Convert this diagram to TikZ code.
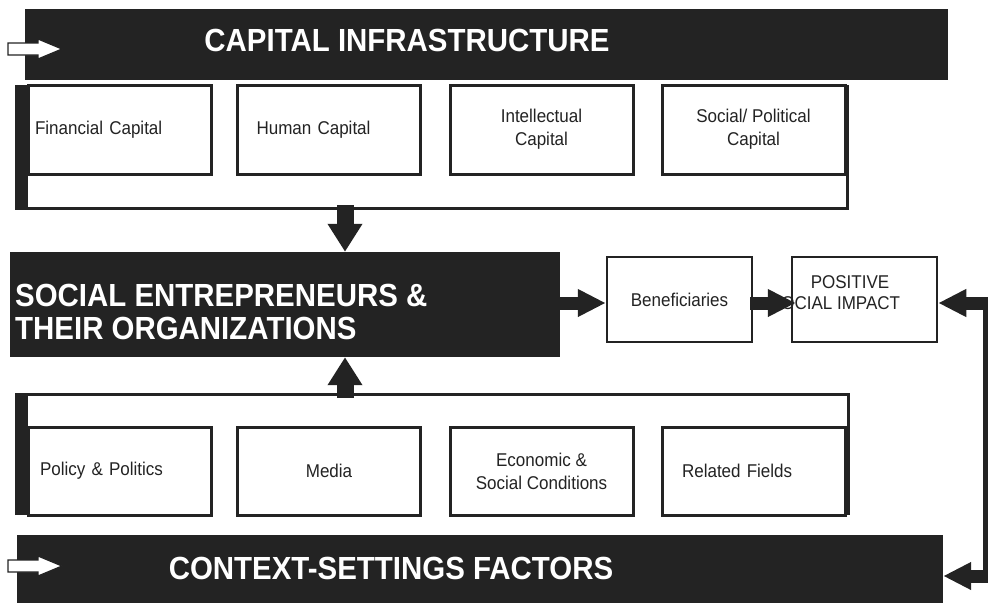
\documentclass[tikz,border=0pt]{standalone}
\usepackage{fontspec}
\newfontfamily\diagfont[FakeStretch=0.92]{Liberation Sans}
\usetikzlibrary{arrows.meta,calc}
\definecolor{barblack}{RGB}{35,35,35}
\tikzset{
  darkbar/.style={fill=barblack, draw=none, inner sep=0pt},
  bartext/.style={text=white, inner sep=0pt, align=left,
    font=\diagfont\bfseries\fontsize{32}{33}\selectfont},
  itembox/.style={draw=barblack, line width=3pt, fill=white, inner sep=0pt,
    minimum width=183pt, minimum height=89pt, align=center, text=barblack,
    font=\diagfont\fontsize{18.5}{23}\selectfont},
  flowbox/.style={itembox, line width=2.5pt, minimum width=145pt,
    minimum height=85pt},
  grouplines/.style={draw=barblack, line width=3pt},
  bigarrow/.style={barblack, line width=17pt, -{Triangle[width=33pt,length=28pt]}},
  blockarrow/.style={barblack, line width=13pt, -{Triangle[width=26pt,length=28pt]}},
  inarrow/.style={fill=white, draw=barblack, line width=1.2pt}
}
\begin{document}
\begin{tikzpicture}[x=1pt,y=-1pt]
  \useasboundingbox (0,0) rectangle (988,603);
  % capital infrastructure
  \node[darkbar, minimum width=923pt, minimum height=71pt] (capbar) at (486.5,44.5) {};
  \node[bartext] (captitle) at (407,40) {CAPITAL INFRASTRUCTURE};
  \coordinate (capin) at (8,49);
  \draw[inarrow] (capin) ++(0,-6) -- ++(30,0) -- ++(0,-4) -- ++(24,10)
    -- ++(-24,10) -- ++(0,-4) -- ++(-30,0) -- cycle;
  \node[minimum width=830pt, minimum height=123pt, inner sep=0pt] (capgroup) at (432,146.5) {};
  \draw[grouplines] (capgroup.north west) -- (capgroup.south west)
    -- (capgroup.south east) -- (capgroup.north east);
  \fill[barblack] (capgroup.north west) rectangle ($(capgroup.south west)+(11,0)$);
  \node[itembox, text width=169pt, align=left] (fin) at (119.5,130) {Financial Capital};
  \node[itembox, text width=145pt, align=left] (hum) at (329,130) {Human Capital};
  \node[itembox] (int) at (541.5,129.5) {Intellectual\\Capital};
  \node[itembox] (soc) at (753.5,129.5) {Social/ Political\\Capital};
  % social entrepreneurs
  \node[darkbar, minimum width=550pt, minimum height=105pt] (sebox) at (285,304.5) {};
  \node[bartext, anchor=west] (setitle) at (15,312) {SOCIAL ENTREPRENEURS \&\\THEIR ORGANIZATIONS};
  \coordinate (dropx) at (345,0);
  \draw[bigarrow] (capgroup.south -| dropx) ++(0,-3) -- (sebox.north -| dropx);
  % beneficiaries and impact
  \coordinate (flowy) at (0,303);
  \node[flowbox] (ben) at (679.5,299.5) {Beneficiaries};
  \node[flowbox] (pos) at (864.5,299.5) {};
  \node[inner sep=0pt, align=center, text=barblack,
    font=\diagfont\fontsize{18.5}{21}\selectfont] (postext) at (835,292.5)
    {\hspace*{30pt}POSITIVE\\SOCIAL IMPACT};
  \draw[blockarrow] (sebox.east |- flowy) -- (ben.west |- flowy);
  \draw[blockarrow] ([xshift=-3pt]ben.east |- flowy) -- ([xshift=5pt]pos.west |- flowy);
  % context-setting factors
  \node[minimum width=831pt, minimum height=120pt, inner sep=0pt] (ctxgroup) at (432.5,455) {};
  \draw[grouplines] (ctxgroup.south west) -- (ctxgroup.north west)
    -- (ctxgroup.north east) -- (ctxgroup.south east);
  \fill[barblack] (ctxgroup.north west) rectangle ($(ctxgroup.south west)+(11,0)$);
  \node[itembox, minimum height=88pt, text width=159pt, align=left] (pol) at (119.5,471) {Policy \& Politics};
  \node[itembox, minimum height=88pt] (med) at (329,471) {Media};
  \node[itembox, minimum height=88pt] (eco) at (541.5,471) {Economic \&\\Social Conditions};
  \node[itembox, minimum height=88pt, text width=143pt, align=left] (rel) at (753.5,471) {Related Fields};
  \draw[bigarrow] (ctxgroup.north -| dropx) ++(0,3) -- (sebox.south -| dropx);
  \node[darkbar, minimum width=926pt, minimum height=68pt] (ctxbar) at (480,569) {};
  \node[bartext] (ctxtitle) at (391,568) {CONTEXT-SETTINGS FACTORS};
  \coordinate (ctxin) at (8,566);
  \draw[inarrow] (ctxin) ++(0,-6) -- ++(30,0) -- ++(0,-4) -- ++(24,10)
    -- ++(-24,10) -- ++(0,-4) -- ++(-30,0) -- cycle;
  % feedback loop
  \coordinate (looptop) at (985.5,303);
  \coordinate (loopbot) at (985.5,576);
  \draw[barblack, line width=5pt, line cap=rect] (looptop) -- (loopbot);
  \draw[blockarrow, line cap=rect] (looptop) -- (pos.east |- looptop);
  \draw[blockarrow, line cap=rect] (loopbot) -- (ctxbar.east |- loopbot);
\end{tikzpicture}
\end{document}
